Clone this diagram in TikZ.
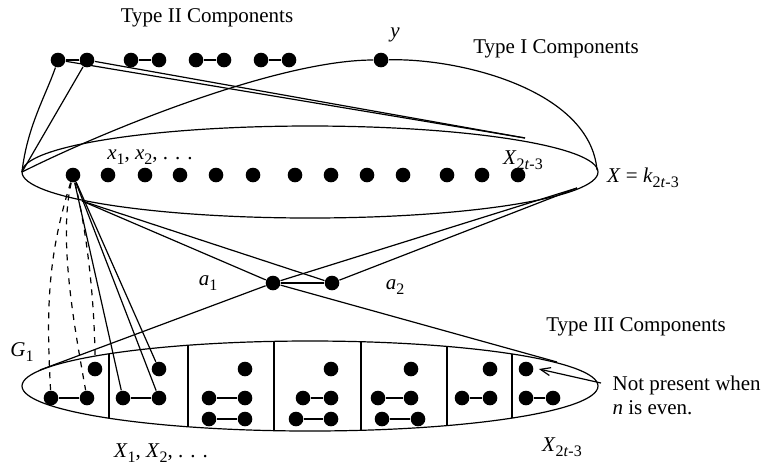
\documentclass[tikz,border=0pt]{standalone}
\usepackage{fontspec}
\setmainfont{Liberation Serif}
\usetikzlibrary{arrows.meta}
\newcommand{\lsub}[1]{\raisebox{-0.55ex}{\footnotesize #1}}

\begin{document}
\begin{tikzpicture}[x=0.5pt,y=-0.5pt,line width=0.6pt,
  font=\fontsize{10.5}{12}\selectfont,
  dot/.style={circle,fill,inner sep=0pt,minimum size=7.3pt},
  lab/.style={inner sep=0pt}]
  \useasboundingbox (0,0) rectangle (771,468);
  % Top: the clique X
  \draw (310,172) ellipse [x radius=288, y radius=46];
  \foreach \x [count=\i] in {73,108,145,180,216,253,295,331,367,403,447,482,518}
    \node[dot] (x\i) at (\x,175) {};
  \coordinate (ltip) at (22,172);
  \coordinate (rtip) at (597,170);
  \coordinate (ml) at (82,201);
  \coordinate (mr) at (577,188);
  \coordinate (xend) at (525,138);
  \node[lab] (xlab) at (150,157) {\textit{x}\lsub{1}, \textit{x}\lsub{2}, . . .};
  \node[lab] (xtop) at (523,160) {\textit{X}\lsub{2\textit{t}-3}};
  \node[lab] (xeq) at (643,178) {\textit{X} = \textit{k}\lsub{2\textit{t}-3}};
  % Type II and Type I components
  \foreach \x [count=\i] in {58,87,131,159,196,224,261,289}
    \node[dot] (t\i) at (\x,60) {};
  \foreach \i/\j in {1/2,3/4,5/6,7/8}
    \draw (t\i) -- (t\j);
  \node[dot] (ydot) at (381,60) {};
  \node[lab] (ylab) at (395,35) {\textit{y}};
  \node[lab] (type2) at (207,18) {Type II Components};
  \node[lab] (type1) at (556,49) {Type I Components};
  \draw (ltip) .. controls +(5,-45) and +(-12,35) .. (t1);
  \draw (ltip) -- (t2);
  \draw (t1) -- (xend);
  \draw (t2) -- (xend);
  \draw (ltip) .. controls +(90,-45) and +(-100,0) .. (ydot);
  \draw (ydot) .. controls +(79,-2) and +(-7,-80) .. (rtip);
  % Middle: a_1 and a_2
  \node[dot] (a1) at (273,283) {};
  \node[dot] (a2) at (332,283) {};
  \node[lab] (a1lab) at (208,283) {\textit{a}\lsub{1}};
  \node[lab] (a2lab) at (395,287) {\textit{a}\lsub{2}};
  \draw (a1) -- (a2);
  \foreach \n in {a1,a2} {
    \draw (\n) -- (ml);
    \draw (\n) -- (mr);
  }
  % Bottom: Type III components
  \draw (310,386) ellipse [x radius=288, y radius=45];
  \foreach \x in {109,188,274,361,447,512} {
    \pgfmathsetmacro\h{45*sqrt(1-((\x-310)/288)^2)}
    \draw (\x,386-\h) -- (\x,386+\h);
  }
  \foreach \n/\x/\y in {g1/51/398, g2/87/398, g3/95/369,
      b1/123/398, b2/159/398, b3/159/369,
      c3t/245/369, c3a/209/398, c3b/245/398, c3c/209/419, c3d/245/419,
      c4t/331/369, c4a/303/398, c4b/331/398, c4c/296/419, c4d/331/419,
      c5t/411/369, c5a/378/398, c5b/411/398, c5c/382/419, c5d/418/419,
      c6t/490/369, c6a/462/398, c6b/490/398,
      c7t/526/369, c7a/526/398, c7b/553/398}
    \node[dot] (\n) at (\x,\y) {};
  \foreach \a/\b in {g1/g2, b1/b2, c3a/c3b, c3c/c3d, c4a/c4b, c4c/c4d,
      c5a/c5b, c5c/c5d, c6a/c6b, c7a/c7b}
    \draw (\a) -- (\b);
  \coordinate (bl) at (40,370);
  \coordinate (br) at (557,362);
  \draw (a1) -- (bl);
  \draw (a1) -- (br);
  % x_1 to G_1 and X_1
  \draw[dashed] (x1) .. controls +(-25,80) and +(-5,-90) .. (g1);
  \draw[dashed] (x1) .. controls +(-15,65) and +(-12,-68) .. (g2);
  \draw[dashed] (x1) .. controls +(15,60) and +(0,-60) .. (g3);
  \foreach \n in {b1,b2,b3}
    \draw (x1) -- (\n);
  \node[lab] (g1lab) at (22,352) {\textit{G}\lsub{1}};
  \node[lab] (type3) at (636,327) {Type III Components};
  \node[lab] (xbot) at (161,453) {\textit{X}\lsub{1}, \textit{X}\lsub{2}, . . .};
  \node[lab] (xbotend) at (562,447) {\textit{X}\lsub{2\textit{t}-3}};
  % Note
  \node[lab,anchor=north west,align=left] (note) at (612,375)
    {Not present when\\\textit{n} is even.};
  \coordinate (notept) at (601,383);
  \draw[-{Straight Barb[length=5pt,width=4pt]}] (notept) -- ([xshift=2.5pt]c7t.east);
\end{tikzpicture}
\end{document}
